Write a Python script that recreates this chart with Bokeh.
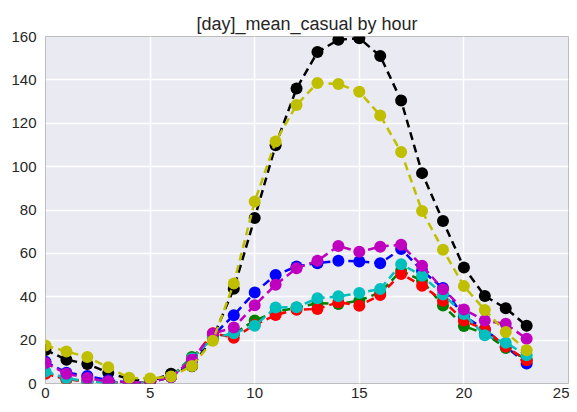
from bokeh.plotting import figure
from bokeh.models import Range1d, FixedTicker
from bokeh.embed import file_html
from bokeh.resources import INLINE

hours = list(range(24))

# series values (mean casual riders by hour), one list per day
blue = [10, 5, 3.5, 1.5, 0.5, 0.5, 3, 10.5, 22, 31.5, 42, 50, 54, 55.5, 56.6, 56.3, 55.5, 62, 52, 44, 31, 25, 17, 9.2]
green = [5, 2, 1, 0.5, 0.5, 0.5, 3, 12.2, 21, 23, 29, 33, 35, 37, 36.7, 38.2, 42, 52, 47.4, 36, 26.5, 23, 16.4, 11]
red = [4.5, 2, 1, 0.5, 0.5, 0.5, 3, 11, 23.2, 21.1, 27, 31.6, 34, 34.4, 37.5, 35.9, 40.8, 50.5, 45.1, 38.2, 29, 24.9, 17, 10.7]
cyan = [5.5, 2.5, 1, 0.5, 0.5, 0.5, 3, 11.5, 21, 23.2, 26.6, 35, 35.2, 39.3, 40.2, 41.7, 43.6, 55, 49.7, 41, 32.1, 22.2, 18.8, 13]
magenta = [9.5, 4.5, 2.5, 1, 0.5, 0.5, 3, 11, 23, 25.8, 36.1, 45.5, 53.1, 56.6, 63.4, 60.7, 63.1, 64, 54.3, 43.5, 34.1, 29, 27.5, 20.6]
yellow = [17.5, 14.8, 12.2, 7.5, 2.6, 2.3, 3.2, 8.1, 19.7, 46.1, 83.9, 111.6, 128.4, 138.6, 138.1, 134.5, 123.6, 106.7, 79.5, 61.7, 44.9, 33.9, 23.7, 15.3]
black = [15.5, 11, 9, 5, 2, 1, 4.5, 8, 21, 43.7, 76.3, 109.9, 136, 152.8, 158.5, 159.2, 151, 130.5, 97, 74.9, 53.5, 40.3, 34.7, 26.6]

x_ticks = [0, 5, 10, 15, 20, 25]
y_ticks = [0, 20, 40, 60, 80, 100, 120, 140, 160]

series = [
    (black, "#000000"),
    (blue, "#0000FF"),
    (green, "#008000"),
    (red, "#FF0000"),
    (cyan, "#00BFBF"),
    (magenta, "#BF00BF"),
    (yellow, "#BFBF00"),
]

FONT = "Liberation Sans"

p = figure(width=569, height=404, output_backend="svg", toolbar_location=None,
           x_range=Range1d(0, 25), y_range=Range1d(0, 160),
           title="[day]_mean_casual by hour",
           min_border_left=45, min_border_right=1, min_border_top=36, min_border_bottom=21)

p.background_fill_color = "#EAEAF2"
p.border_fill_color = "white"
p.outline_line_color = "#BDBDBD"
p.outline_line_width = 1

p.title.align = "center"
p.title.text_font = FONT
p.title.text_font_size = "18px"
p.title.text_font_style = "normal"
p.title.text_color = "#262626"
p.title.offset = 0
p.title.standoff = 5

p.xgrid.grid_line_color = "white"
p.ygrid.grid_line_color = "white"
p.xgrid.grid_line_width = 1.5
p.ygrid.grid_line_width = 1.5
p.xaxis.ticker = FixedTicker(ticks=x_ticks)
p.yaxis.ticker = FixedTicker(ticks=y_ticks)

for ax in (p.xaxis[0], p.yaxis[0]):
    ax.axis_line_color = None
    ax.major_tick_line_color = None
    ax.minor_tick_line_color = None
    ax.major_tick_in = 0
    ax.major_tick_out = 0
    ax.major_label_text_font = FONT
    ax.major_label_text_font_size = "15px"
    ax.major_label_text_color = "#262626"
p.xaxis.major_label_standoff = 4
p.yaxis.major_label_standoff = 9

for vals, col in series:
    p.line(hours, vals, line_color=col, line_width=2.5, line_dash="8 5")
    p.scatter(hours, vals, size=12, fill_color=col, line_color=col, line_width=0)

open("out.html", "w").write(file_html(p, INLINE))
